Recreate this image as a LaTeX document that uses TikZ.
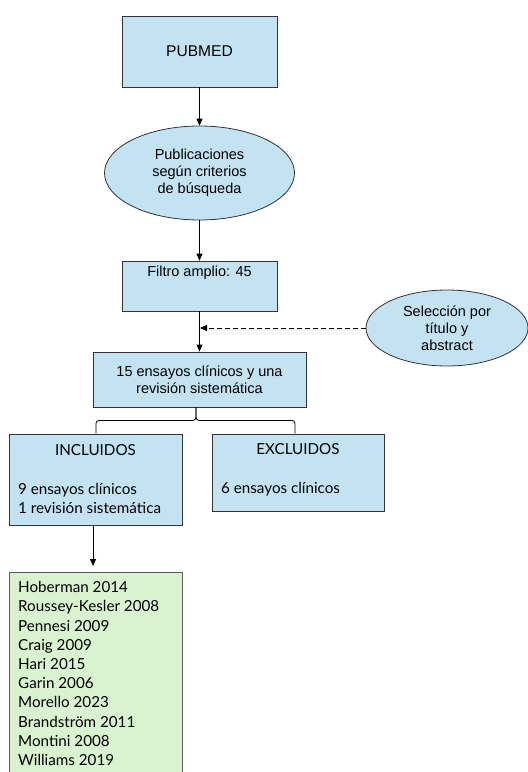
\documentclass[tikz,border=0pt]{standalone}
\usepackage{fontspec}
\setmainfont{Liberation Sans}
\newfontfamily\apt{Lato}
\usetikzlibrary{shapes.geometric,arrows.meta}
\definecolor{boxblue}{HTML}{C3E3F3}
\definecolor{boxgreen}{HTML}{D9F2D0}
\definecolor{edge}{HTML}{333333}
\tikzset{
  bluebox/.style={draw=edge,line width=0.8pt,fill=boxblue,rectangle,inner sep=0pt},
  blueell/.style={draw=edge,line width=0.8pt,fill=boxblue,ellipse,inner sep=0pt},
  greenbox/.style={draw=edge!80,line width=0.8pt,fill=boxgreen,rectangle,inner sep=0pt},
  atext/.style={font=\fontsize{14.5}{16.9}\selectfont,align=center,inner sep=0pt},
  btext/.style={font=\apt\fontsize{15.2}{19.2}\selectfont,inner sep=0pt},
  conn/.style={line width=0.8pt,black},
  arr/.style={conn,-{Triangle[width=6pt,length=7pt]}},
}
\begin{document}
\begin{tikzpicture}[x=1pt,y=-1pt]
\useasboundingbox (0,0) rectangle (528,772);
\clip (0,0) rectangle (528,772);
\fill[white] (0,0) rectangle (528,772);
% nodes
\node[bluebox,minimum width=155,minimum height=71,atext,font=\fontsize{15.6}{18}\selectfont] (pubmed) at (199.5,51.5) {PUBMED};
\node[blueell,minimum width=190,minimum height=94,atext] (pub) at (199.5,173) {Publicaciones\\según criterios\\de búsqueda};
\node[bluebox,minimum width=155,minimum height=50] (filtro) at (199.5,286) {};
\node[atext] (filtroT) at (199.5,273) {Filtro amplio: 45};
\node[blueell,minimum width=162,minimum height=76,atext] (sel) at (447,328) {Selección por\\título y\\abstract};
\coordinate (join) at (199.5,328);
\node[bluebox,minimum width=213,minimum height=55,atext] (ens) at (199.5,379.5) {15 ensayos clínicos y una\\revisión sistemática};
\node[bluebox,minimum width=173,minimum height=91] (inc) at (95.5,479.5) {};
\node[btext,anchor=base] (incT) at (95.5,455) {INCLUIDOS};
\node[btext,anchor=base west,align=left] (incB) at (18,513.5) {9 ensayos clínicos\\1 revisión sistemática};
\node[bluebox,minimum width=172,minimum height=77] (exc) at (298,472.5) {};
\node[btext,anchor=base] (excT) at (298,454) {EXCLUIDOS};
\node[btext,anchor=base west] (excB) at (221,493.5) {6 ensayos clínicos};
\node[greenbox,minimum width=173,minimum height=210,anchor=north] (list) at (95.5,572) {};
\node[btext,anchor=base west,align=left] (listT) at (18,765.5) {Hoberman 2014\\Roussey-Kesler 2008\\Pennesi 2009\\Craig 2009\\Hari 2015\\Garin 2006\\Morello 2023\\Brandström 2011\\Montini 2008\\Williams 2019};
% connectors
\draw[arr] (pubmed.south) -- (pub.north);
\draw[arr] (pub.south) -- (filtro.north);
\draw[arr] (filtro.south) -- (ens.north);
\draw[arr,dashed,dash pattern=on 5pt off 3pt] (sel.west) -- ([xshift=0.5pt]join);
\draw[conn,rounded corners=3pt] ([xshift=-3.5pt]ens.south) -- ++(0,13) -| ([xshift=0.5pt]inc.north);
\draw[conn,rounded corners=3pt] ([xshift=-3.5pt]ens.south) -- ++(0,13) -| ([xshift=-3pt]exc.north);
\draw[arr,shorten >=6pt] ([xshift=-2.5pt]inc.south) -- ([xshift=-2.5pt]list.north);
\end{tikzpicture}
\end{document}
